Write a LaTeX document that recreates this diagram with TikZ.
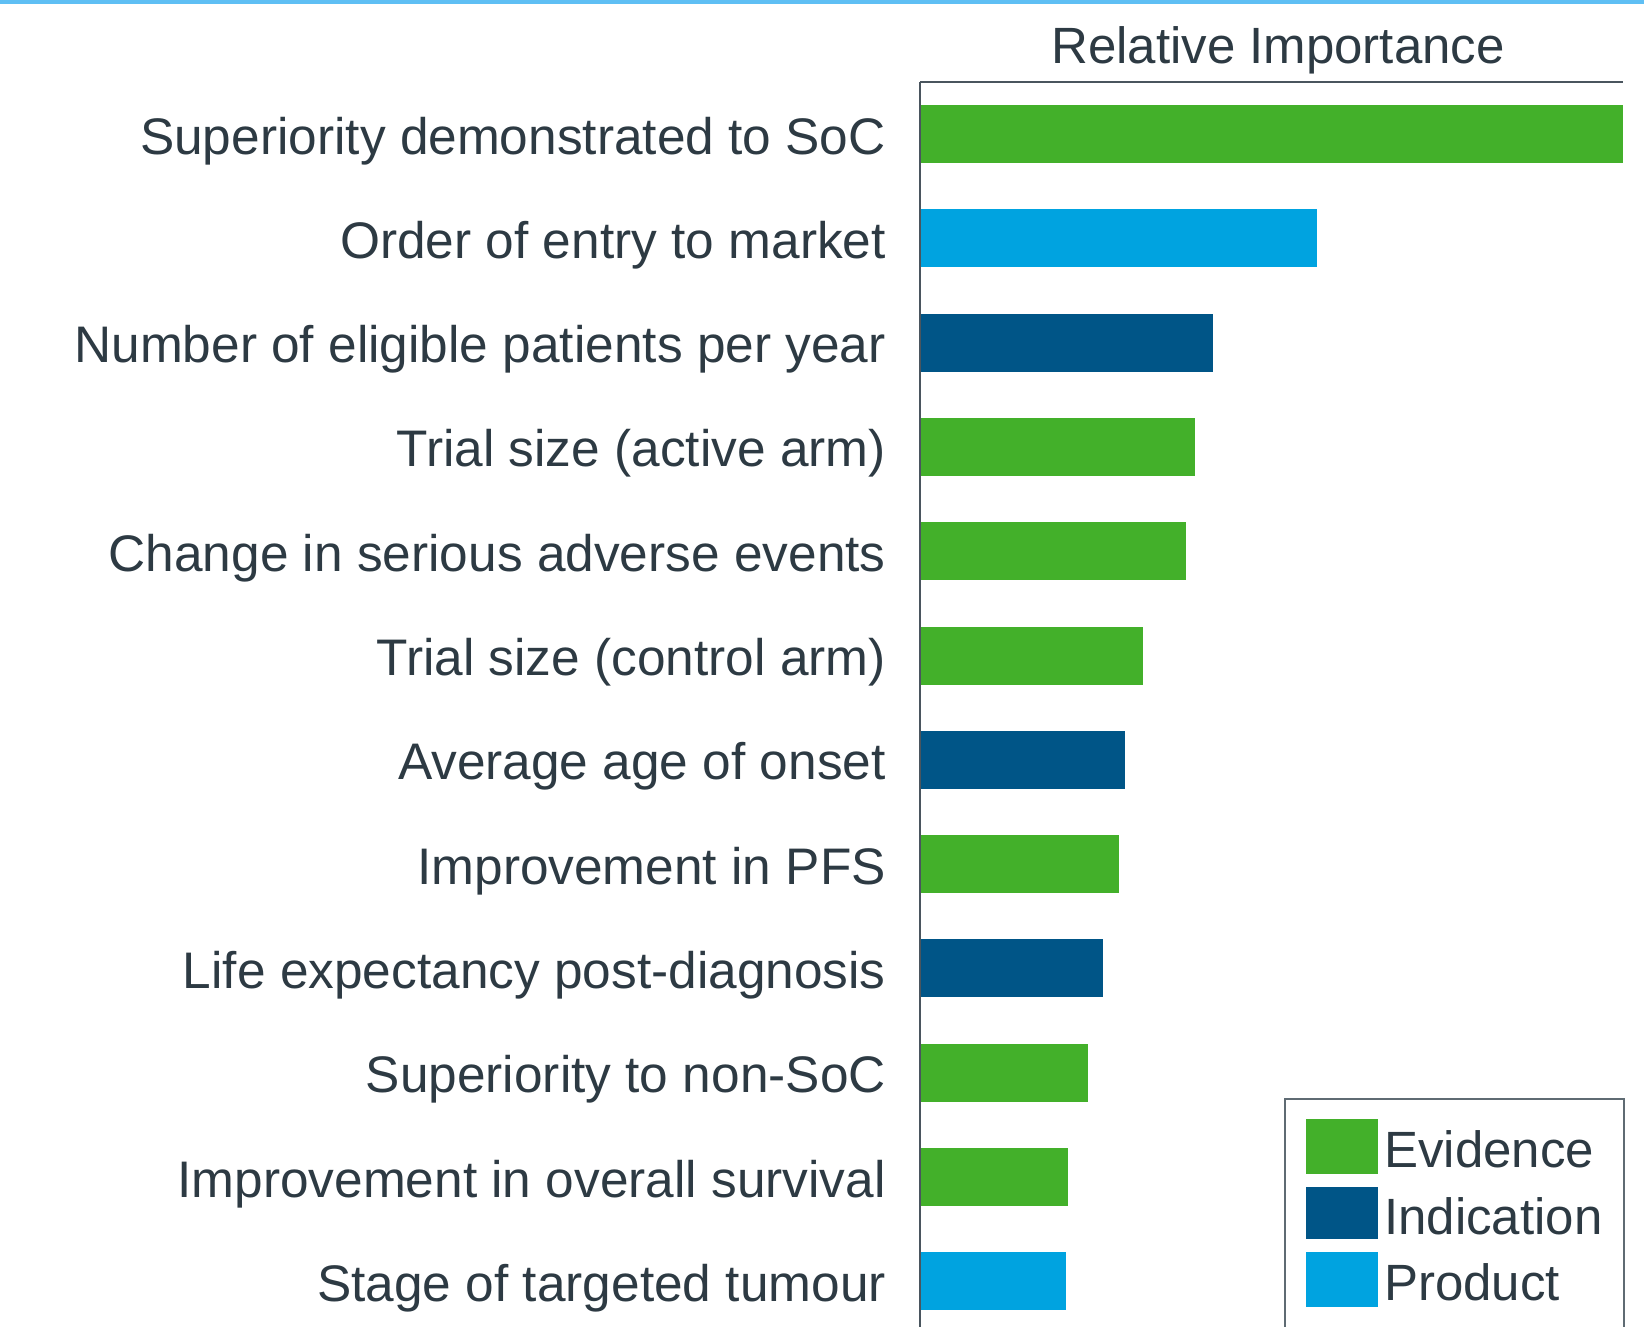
\documentclass[tikz,border=0pt]{standalone}
\usepackage{fontspec}
\setmainfont{Liberation Sans}
\definecolor{evid}{HTML}{43B02A}
\definecolor{indic}{HTML}{005587}
\definecolor{prod}{HTML}{00A3E0}
\definecolor{txt}{HTML}{2D3A43}
\definecolor{topline}{HTML}{5FBFF4}
\definecolor{axisc}{HTML}{4A555E}
\definecolor{legc}{HTML}{5F6B73}
\begin{document}
\begin{tikzpicture}[x=1pt,y=-1pt,
  lab/.style={anchor=base east, text=txt, font=\fontsize{51.4}{60}\selectfont, inner sep=0pt},
  legtext/.style={anchor=base west, text=txt, font=\fontsize{51}{60}\selectfont, inner sep=0pt},
  title/.style={anchor=base, text=txt, font=\fontsize{51}{60}\selectfont, inner sep=0pt}]
\useasboundingbox (0,0) rectangle (1644,1327);
\fill[topline] (0,0) rectangle (1644,4);
\node[title] (title) at (1278,64) {Relative Importance};
\foreach [count=\i from 0] \xe/\col/\t in {
  1623/evid/Superiority demonstrated to SoC,
  1317/prod/Order of entry to market,
  1213/indic/Number of eligible patients per year,
  1195/evid/Trial size (active arm),
  1186/evid/Change in serious adverse events,
  1143/evid/Trial size (control arm),
  1125/indic/Average age of onset,
  1119/evid/Improvement in PFS,
  1103/indic/Life expectancy post-diagnosis,
  1088/evid/Superiority to non-SoC,
  1068/evid/Improvement in overall survival,
  1066/prod/Stage of targeted tumour} {
  \pgfmathsetmacro\yc{134+\i*104.3}
  \fill[\col] (921,\yc-29) rectangle (\xe,\yc+29);
  \node[lab] (l\i) at (886,\yc+20) {\t};
}
\draw[axisc, line width=2pt] (920,82) coordinate (axtop) -- (920,1327) coordinate (axbot);
\draw[axisc, line width=1.5pt] (axtop) -- (1623,82);
\draw[legc, line width=2pt, fill=white] (1285,1099) rectangle (1624,1345);
\fill[evid] (1306,1119) rectangle (1378,1174);
\fill[indic] (1306,1187) rectangle (1378,1239);
\fill[prod] (1306,1252) rectangle (1378,1307);
\node[legtext] (le) at (1384,1167) {Evidence};
\node[legtext] (li) at (1384,1234) {Indication};
\node[legtext] (lp) at (1384,1300) {Product};
\end{tikzpicture}
\end{document}
